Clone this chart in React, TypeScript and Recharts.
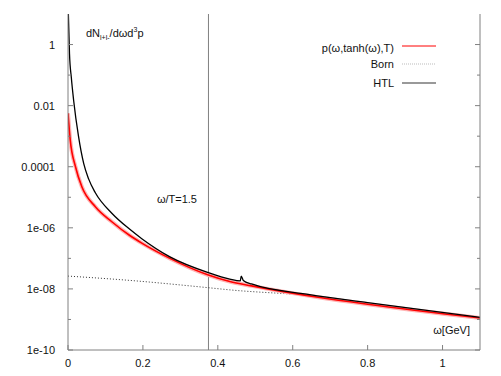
import React from 'react';
import { LineChart, Line, XAxis, YAxis, ReferenceLine } from 'recharts';

// omega [GeV]
const pOmega = [0.0005, 0.004, 0.009, 0.015, 0.028, 0.042, 0.055, 0.073, 0.117, 0.165, 0.197, 0.272, 0.373, 0.432, 0.46, 0.4625, 0.468, 0.49, 0.645, 0.8, 1.1];
const pRate = [16, 0.5, 0.08, 0.015, 1e-3, 1.26e-4, 4e-5, 1.4e-5, 3.0e-6, 8.9e-7, 4.4e-7, 1.12e-7, 3.47e-8, 2.09e-8, 1.82e-8, 2.63e-8, 1.9e-8, 1.45e-8, 6.5e-9, 3.55e-9, 1.17e-9];

const htlOmega = [0, 0.006, 0.02, 0.037, 0.073, 0.117, 0.165, 0.197, 0.272, 0.373, 0.432, 0.49, 0.672, 0.8, 1.1];
const htlRate = [5.6e-3, 7.4e-4, 1e-4, 2.2e-5, 4.9e-6, 1.58e-6, 5.6e-7, 3.16e-7, 1e-7, 2.9e-8, 1.74e-8, 1.26e-8, 5.25e-9, 3.16e-9, 1.12e-9];

const bornOmega = [0, 0.165, 0.373, 0.432, 0.672, 0.8, 1.1];
const bornRate = [2.63e-8, 1.9e-8, 1.1e-8, 9.3e-9, 5.6e-9, 3.4e-9, 1.17e-9];

const xTicks = [0, 0.2, 0.4, 0.6, 0.8, 1];
const xTickLabels = ['0', '0.2', '0.4', '0.6', '0.8', '1'];
const yTicks = [1e-10, 1e-9, 1e-8, 1e-7, 1e-6, 1e-5, 1e-4, 1e-3, 1e-2, 1e-1, 1];
const yTickLabels = ['1e-10', '', '1e-08', '', '1e-06', '', '0.0001', '', '0.01', '', '1'];

const toPoints = (ws: number[], vs: number[]) => ws.map((w, i) => ({ w, v: vs[i] }));
const pData = toPoints(pOmega, pRate);
const htlData = toPoints(htlOmega, htlRate);
const bornData = toPoints(bornOmega, bornRate);

const FONT = '"Liberation Sans", Arial, sans-serif';
const AXIS = '#808080';
const TXT = '#111';

const LeftTick = (props: any) => {
  const { x, y, index } = props;
  const label = yTickLabels[index];
  const len = label ? 5 : 3;
  return (
    <g>
      <line x1={x} y1={y} x2={x + len} y2={y} stroke={AXIS} />
      {label && (
        <text x={x - 13} y={y + 4} textAnchor="end" fontSize={11} fontFamily={FONT} fill={TXT}>{label}</text>
      )}
    </g>
  );
};

const RightTick = (props: any) => {
  const { x, y, index } = props;
  const len = yTickLabels[index] ? 5 : 3;
  return <line x1={x - len} y1={y} x2={x} y2={y} stroke={AXIS} />;
};

const BottomTick = (props: any) => {
  const { x, y, index } = props;
  return (
    <g>
      <line x1={x} y1={y - 5} x2={x} y2={y} stroke={AXIS} />
      <text x={x} y={y + 17} textAnchor="middle" fontSize={11} fontFamily={FONT} fill={TXT}>{xTickLabels[index]}</text>
    </g>
  );
};

export default function App() {
  return (
    <div style={{ position: 'absolute', left: 0, top: 0, width: 501, height: 376, background: '#fff' }}>
      <LineChart width={501} height={376} margin={{ top: 14, right: 1, bottom: 0, left: 8 }}>
        <XAxis
          type="number"
          dataKey="w"
          domain={[0, 1.1]}
          ticks={xTicks}
          allowDataOverflow
          height={26}
          tickSize={0}
          tickMargin={0}
          tickLine={false}
          axisLine={{ stroke: AXIS }}
          tick={<BottomTick />}
        />
        <YAxis
          yAxisId="left"
          type="number"
          scale="log"
          domain={[1e-10, 10]}
          ticks={yTicks}
          allowDataOverflow
          width={60}
          tickSize={0}
          tickMargin={0}
          tickLine={false}
          axisLine={{ stroke: AXIS }}
          tick={<LeftTick />}
        />
        <YAxis
          yAxisId="right"
          orientation="right"
          type="number"
          scale="log"
          domain={[1e-10, 10]}
          ticks={yTicks}
          allowDataOverflow
          width={20}
          tickSize={0}
          tickMargin={0}
          tickLine={false}
          axisLine={{ stroke: AXIS }}
          tick={<RightTick />}
        />
        <ReferenceLine yAxisId="left" x={0.375} stroke={AXIS} strokeWidth={1} />
        <Line yAxisId="left" data={bornData} dataKey="v" type="monotone" stroke="#333" strokeWidth={1} strokeDasharray="1 2" dot={false} isAnimationActive={false} />
        <Line yAxisId="left" data={htlData} dataKey="v" type="monotone" stroke="#ffb4b4" strokeWidth={4} dot={false} isAnimationActive={false} />
        <Line yAxisId="left" data={htlData} dataKey="v" type="monotone" stroke="#ff0000" strokeWidth={1.6} dot={false} isAnimationActive={false} />
        <Line yAxisId="left" data={pData} dataKey="v" type="monotone" stroke="#000" strokeWidth={1.3} dot={false} isAnimationActive={false} />
      </LineChart>
      <svg width={501} height={376} style={{ position: 'absolute', left: 0, top: 0, pointerEvents: 'none' }}>
        <text x={86} y={37} fontSize={11} fontFamily={FONT} fill={TXT}>
          dN<tspan fontSize={7} dy={3}>l+l-</tspan>
          <tspan fontSize={11} dy={-3}>/dωd</tspan>
          <tspan fontSize={7} dy={-5}>3</tspan>
          <tspan fontSize={11} dy={5}>p</tspan>
        </text>
        <text x={197} y={203} textAnchor="end" fontSize={11} fontFamily={FONT} fill={TXT}>ω/T=1.5</text>
        <text x={470} y={334} textAnchor="end" fontSize={11} fontFamily={FONT} fill={TXT}>ω[GeV]</text>
        <text x={394} y={52} textAnchor="end" fontSize={11} fontFamily={FONT} fill={TXT}>p(ω,tanh(ω),T)</text>
        <line x1={402} y1={46} x2={436} y2={46} stroke="#ff0000" strokeWidth={1} />
        <text x={394} y={68} textAnchor="end" fontSize={11} fontFamily={FONT} fill={TXT}>Born</text>
        <line x1={402} y1={64} x2={436} y2={64} stroke="#bbb" strokeWidth={1} strokeDasharray="1 1" />
        <text x={394} y={87} textAnchor="end" fontSize={11} fontFamily={FONT} fill={TXT}>HTL</text>
        <line x1={402} y1={83} x2={436} y2={83} stroke="#777" strokeWidth={1.5} />
      </svg>
    </div>
  );
}
